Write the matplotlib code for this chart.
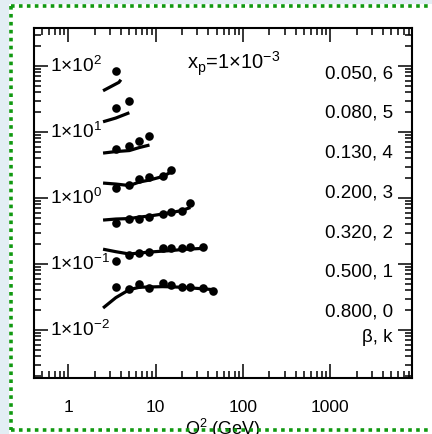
import matplotlib
matplotlib.use("Agg")
import matplotlib.pyplot as plt
from matplotlib.lines import Line2D
from matplotlib.patches import Rectangle
from matplotlib.ticker import LogLocator, NullFormatter, FuncFormatter

plt.rcParams['font.family'] = ['Liberation Sans', 'DejaVu Sans']
plt.rcParams['mathtext.fontset'] = 'custom'
plt.rcParams['mathtext.rm'] = 'Liberation Sans'
plt.rcParams['mathtext.it'] = 'Liberation Sans:italic'
plt.rcParams['mathtext.bf'] = 'Liberation Sans:bold'

# beta bins and offset index k (k=0 at the bottom)
beta = [0.800, 0.500, 0.320, 0.200, 0.130, 0.080, 0.050]
kidx = [0, 1, 2, 3, 4, 5, 6]

# measured points (plotted values, already offset by k)
q2_pts_0 = [3.5, 5, 6.5, 8.5, 12, 15, 20, 25, 35, 45]
pts_0 = [0.0448, 0.0418, 0.0498, 0.0433, 0.0515, 0.0481, 0.0448, 0.0448, 0.0433, 0.0390]
q2_pts_1 = [3.5, 5, 6.5, 8.5, 12, 15, 20, 25, 35]
pts_1 = [0.113, 0.137, 0.149, 0.152, 0.175, 0.178, 0.178, 0.181, 0.184]
q2_pts_2 = [3.5, 5, 6.5, 8.5, 12, 15, 20, 25]
pts_2 = [0.418, 0.481, 0.489, 0.521, 0.573, 0.620, 0.636, 0.831]
q2_pts_3 = [3.5, 5, 6.5, 8.5, 12, 15]
pts_3 = [1.418, 1.574, 1.974, 2.08, 2.19, 2.70]
q2_pts_4 = [3.5, 5, 6.5, 8.5]
pts_4 = [5.52, 6.24, 7.31, 8.70]
q2_pts_5 = [3.5, 5]
pts_5 = [23.5, 29.5]
q2_pts_6 = [3.5]
pts_6 = [82.6]

# model curves
q2_fit_0 = [2.5, 3.5, 5, 6.5, 8.5, 12, 15, 20, 25, 35, 45]
fit_0 = [0.0216, 0.031, 0.041, 0.0445, 0.045, 0.0455, 0.0452, 0.0445, 0.0435, 0.0422, 0.041]
q2_fit_1 = [2.5, 3.5, 5, 6.5, 8.5, 12, 15, 20, 25, 35]
fit_1 = [0.168, 0.154, 0.142, 0.147, 0.152, 0.157, 0.160, 0.166, 0.169, 0.173]
q2_fit_2 = [2.5, 3.5, 5, 6.5, 8.5, 12, 15, 20, 25]
fit_2 = [0.464, 0.481, 0.489, 0.515, 0.534, 0.573, 0.603, 0.647, 0.72]
q2_fit_3 = [2.5, 3.5, 5, 6.5, 8.5, 12, 15]
fit_3 = [1.687, 1.63, 1.546, 1.747, 1.874, 2.117, 2.475]
q2_fit_4 = [2.5, 3.5, 5, 6.5, 8.5]
fit_4 = [4.8, 5.06, 5.24, 5.82, 6.35]
q2_fit_5 = [2.5, 3.5, 5]
fit_5 = [14.3, 16.3, 19.6]
q2_fit_6 = [2.5, 3.8, 4.0]
fit_6 = [42.2, 56.6, 62.0]

points = [(q2_pts_0, pts_0), (q2_pts_1, pts_1), (q2_pts_2, pts_2), (q2_pts_3, pts_3),
          (q2_pts_4, pts_4), (q2_pts_5, pts_5), (q2_pts_6, pts_6)]
fits = [(q2_fit_0, fit_0), (q2_fit_1, fit_1), (q2_fit_2, fit_2), (q2_fit_3, fit_3),
        (q2_fit_4, fit_4), (q2_fit_5, fit_5), (q2_fit_6, fit_6)]

W, H = 432, 434
fig = plt.figure(figsize=(W / 100, H / 100), dpi=100, facecolor='#e3eef4')
# white page area inside the dotted frame
fig.add_artist(Rectangle((9 / W, 0), 1, 1 - 4 / H, transform=fig.transFigure,
                         facecolor='white', edgecolor='none', zorder=-10))

ax = fig.add_axes([34 / W, 1 - 377.7 / H, 378 / W, 349.2 / H])

for (xq, yv) in fits:
    ax.plot(xq, yv, color='black', lw=2.3, solid_capstyle='butt')
for (xq, yv) in points:
    ax.plot(xq, yv, 'o', color='black', ms=6.2, mec='none')

ax.set_xscale('log')
ax.set_yscale('log')
ax.set_xlim(0.405, 8600)
ax.set_ylim(0.0019, 370)

ax.xaxis.set_major_locator(LogLocator(base=10, numticks=10))
ax.xaxis.set_minor_locator(LogLocator(base=10, subs=range(2, 10), numticks=20))
ax.xaxis.set_major_formatter(FuncFormatter(lambda v, _: f'{v:g}'))
ax.xaxis.set_minor_formatter(NullFormatter())
ax.yaxis.set_major_locator(LogLocator(base=10, numticks=10))
ax.yaxis.set_minor_locator(LogLocator(base=10, subs=range(2, 10), numticks=20))
ax.yaxis.set_major_formatter(NullFormatter())
ax.yaxis.set_minor_formatter(NullFormatter())

ax.tick_params(which='both', direction='in', top=True, right=True, width=1.1)
ax.tick_params(which='major', length=10)
ax.tick_params(which='minor', length=5)
ax.tick_params(axis='x', which='major', pad=16, labelsize=12.5)
for s in ax.spines.values():
    s.set_linewidth(1.5)

# y tick labels drawn inside the frame
for e in [2, 1, 0, -1, -2]:
    ax.annotate(f'1×10$^{{{e}}}$', xy=(0, 10.0 ** e), xycoords=('axes fraction', 'data'),
                xytext=(11.5, -4.4), textcoords='offset points',
                ha='left', va='baseline', fontsize=13.8)

ax.text(0.529, 0.882, r'x$_{\mathrm{p}}$=1×10$^{-3}$', transform=ax.transAxes,
        ha='center', va='baseline', fontsize=14.5)

# beta, k legend on the right
for i, (b, k) in enumerate(zip(beta[::-1], kidx[::-1])):
    ybase = 78.3 + 39.7 * i
    ax.text(0.9497, (377.7 - ybase) / 349.2, f'{b:.3f}, {k}', transform=ax.transAxes,
            ha='right', va='baseline', fontsize=13.5)
ax.text(0.9497, (377.7 - 341.7) / 349.2, 'β, k', transform=ax.transAxes,
        ha='right', va='baseline', fontsize=13.5)

ax.set_xlabel('Q$^2$ (GeV)', fontsize=13)
ax.xaxis.set_label_coords(0.5, -0.1125)

# dotted green frame of the page
green = '#119911'
dots = dict(color=green, lw=2.6, linestyle=(0, (1.0, 1.2)), transform=fig.transFigure, zorder=20)
fig.add_artist(Line2D([10.5 / W, 1], [1 - 5.5 / H, 1 - 5.5 / H], **dots))
fig.add_artist(Line2D([10.5 / W, 10.5 / W], [1 - 5.5 / H, 1 - 430.3 / H], **dots))
fig.add_artist(Line2D([10.5 / W, 1], [1 - 430.3 / H, 1 - 430.3 / H], **dots))

fig.savefig('out.png', dpi=100, facecolor=fig.get_facecolor())
